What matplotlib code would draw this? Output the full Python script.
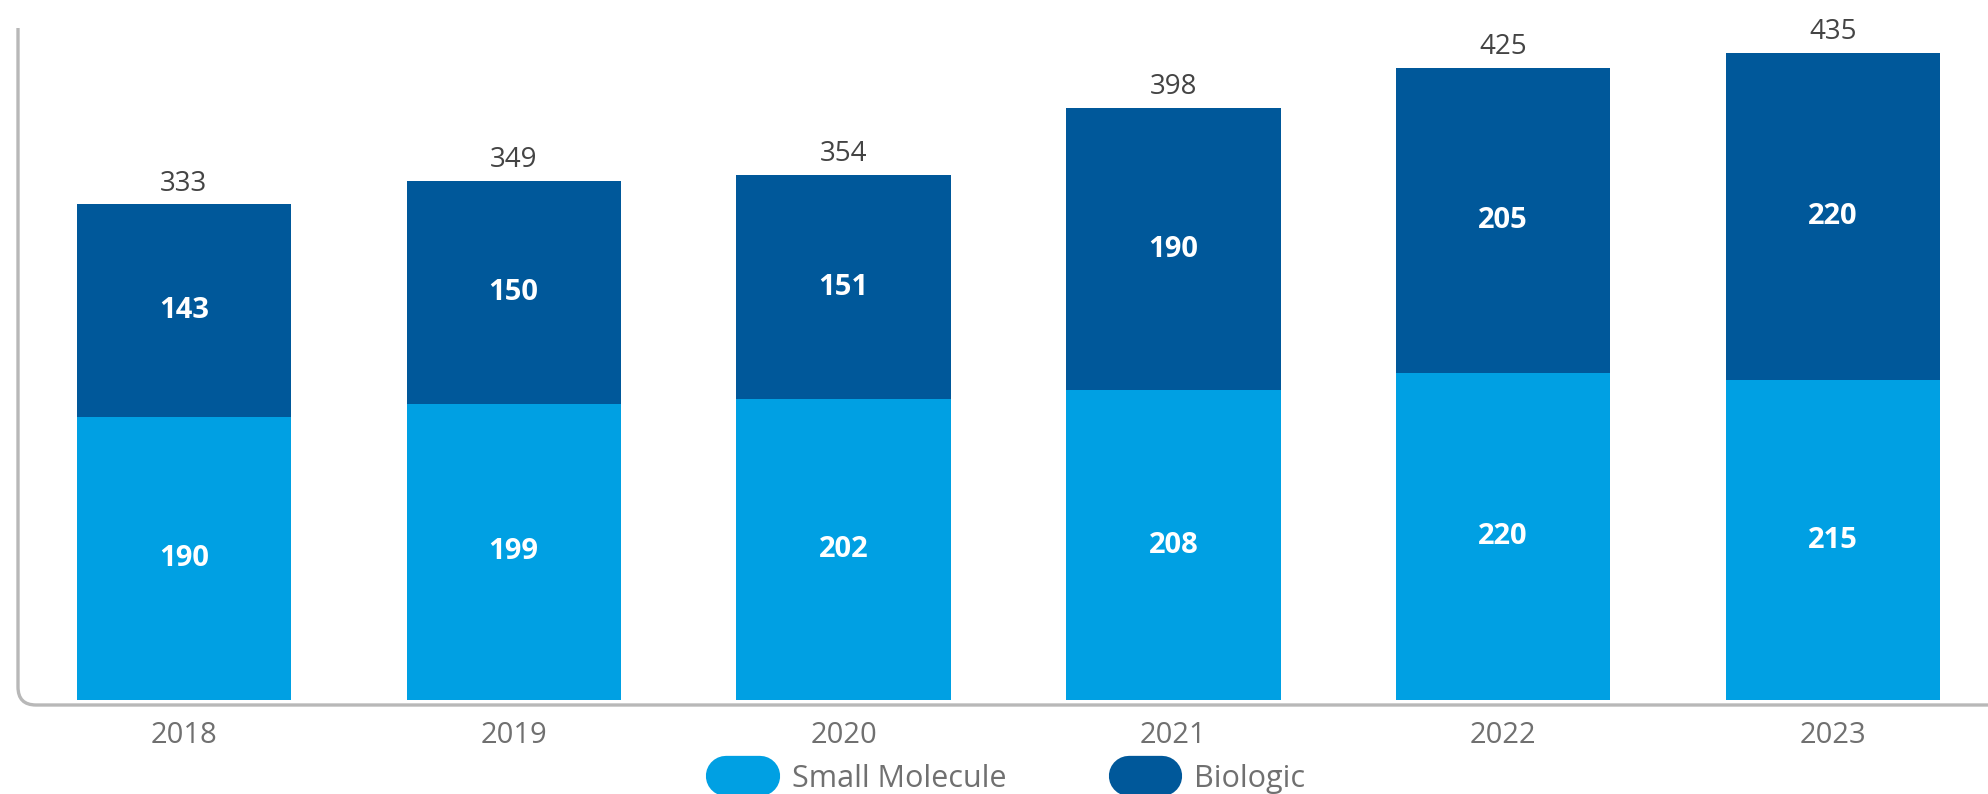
import matplotlib.pyplot as plt
import numpy as np
from matplotlib.lines import Line2D
from matplotlib.path import Path
from matplotlib.patches import PathPatch
from matplotlib import transforms

plt.rcParams['font.family'] = ['Open Sans', 'DejaVu Sans']

years = ['2018', '2019', '2020', '2021', '2022', '2023']
small_molecule = [190, 199, 202, 208, 220, 215]
biologic = [143, 150, 151, 190, 205, 220]
totals = [333, 349, 354, 398, 425, 435]

light = '#00a0e3'
dark = '#00589a'

W, H = 1988, 794
fig = plt.figure(figsize=(W / 100, H / 100), dpi=100)
# axes in pixel terms: left 18, bottom (zero line) 700, top 28
ax = fig.add_axes([18 / W, (H - 700) / H, (W - 18) / W, (700 - 28) / H])

x = np.arange(len(years))
ax.bar(x, small_molecule, width=0.65, color=light)
ax.bar(x, biologic, width=0.65, bottom=small_molecule, color=dark)

for i in range(len(years)):
    ax.text(x[i], small_molecule[i] / 2, str(small_molecule[i]), ha='center', va='center',
            color='white', fontsize=21, fontweight='bold')
    ax.text(x[i], small_molecule[i] + biologic[i] / 2, str(biologic[i]), ha='center', va='center',
            color='white', fontsize=21, fontweight='bold')
    ax.annotate(str(totals[i]), (x[i], small_molecule[i] + biologic[i]), xytext=(0, 5),
                textcoords='offset points', ha='center', va='bottom', color='#444444', fontsize=20)

ax.set_xlim(-0.503, 5.47)
ax.set_ylim(0, 451.6)
ax.set_xticks(x)
ax.set_xticklabels(years, fontsize=21, color='#707070')
ax.tick_params(axis='x', length=0, pad=15)
ax.set_yticks([])
for s in ax.spines.values():
    s.set_visible(False)

# rounded L-shaped axis line, figure pixel coords (y flipped from image coords)
r = 18
lx, by, ty = 18, 705, 28
verts = [(lx, H - ty), (lx, H - (by - r)), (lx, H - by), (lx + r, H - by), (W, H - by)]
codes = [Path.MOVETO, Path.LINETO, Path.CURVE3, Path.CURVE3, Path.LINETO]
pix = transforms.Affine2D().scale(1 / W, 1 / H) + fig.transFigure
fig.patches.append(PathPatch(Path(verts, codes), transform=pix, fill=False,
                             edgecolor='#b8b8b8', linewidth=2.4))

handles = [Line2D([0], [0], color=light, lw=29, solid_capstyle='round'),
           Line2D([0], [0], color=dark, lw=29, solid_capstyle='round')]
leg = fig.legend(handles, ['Small Molecule', 'Biologic'], loc='center', ncol=2,
                 bbox_to_anchor=(0.511, 1 - 779 / H), frameon=False, fontsize=22,
                 handlelength=1.1, handletextpad=1.05, columnspacing=4.0,
                 labelcolor='#707070')

fig.savefig('out.png', dpi=100)
